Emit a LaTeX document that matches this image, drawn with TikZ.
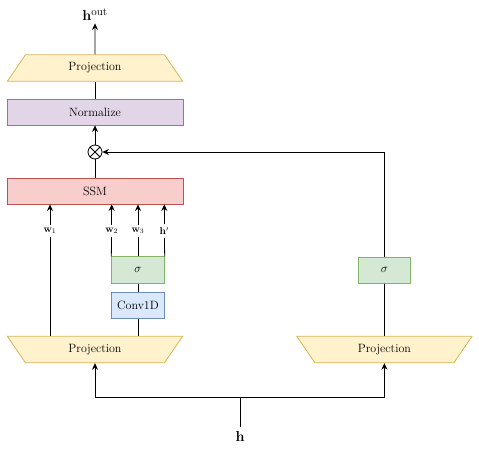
\documentclass[tikz,border=0pt]{standalone}
\usetikzlibrary{shapes.geometric,arrows.meta}
\definecolor{projfill}{HTML}{FFF2CC}
\definecolor{projline}{HTML}{D6B656}
\definecolor{normfill}{HTML}{E1D5E7}
\definecolor{normline}{HTML}{9673A6}
\definecolor{ssmfill}{HTML}{F8CECC}
\definecolor{ssmline}{HTML}{B85450}
\definecolor{sigfill}{HTML}{D5E8D4}
\definecolor{sigline}{HTML}{82B366}
\definecolor{convfill}{HTML}{DAE8FC}
\definecolor{convline}{HTML}{6C8EBF}
\begin{document}
\begin{tikzpicture}[x=1pt,y=-1pt,>={Stealth[length=6.5pt,width=6pt]},
	wide/.style={rectangle,minimum width=176pt,minimum height=26pt,inner sep=0pt,font=\fontsize{12}{14}\selectfont},
	narrow/.style={rectangle,minimum width=52.6pt,minimum height=26.5pt,inner sep=0pt,font=\fontsize{12}{14}\selectfont},
	proj/.style={trapezium,draw=projline,fill=projfill,trapezium stretches=true,minimum width=176pt,minimum height=26.5pt,inner sep=0pt,font=\fontsize{12}{14}\selectfont},
	weight/.style={inner sep=3pt,font=\fontsize{10}{12}\selectfont}]
	\useasboundingbox (0,0) rectangle (479,448);

	\begin{scope}[every node/.style={line width=0.8pt}]
		\node (Hout) [inner sep=2pt,font=\fontsize{15}{18}\selectfont] at (95,15) {$\mathbf{h}^{\mathrm{out}}$};
		\node (Ptop) [proj,trapezium left angle=57,trapezium right angle=57] at (95,68) {Projection};
		\node (Norm) [wide,draw=normline,fill=normfill] at (95,112) {Normalize};
		\node (Mul) [circle,draw=black,minimum size=14pt,inner sep=0pt,
			path picture={\draw[line width=0.8pt] (path picture bounding box.north west) -- (path picture bounding box.south east)
				(path picture bounding box.north east) -- (path picture bounding box.south west);}] at (95,152) {};
		\node (SSM) [wide,draw=ssmline,fill=ssmfill] at (95,191) {SSM};
		\node (S1) [narrow,draw=sigline,fill=sigfill,font=\fontsize{13}{15}\selectfont] at (138,270) {$\sigma$};
		\node (Conv) [narrow,draw=convline,fill=convfill] at (138,305.5) {Conv1D};
		\node (PL) [proj,trapezium left angle=123,trapezium right angle=123] at (95,349.5) {Projection};
		\node (S2) [narrow,draw=sigline,fill=sigfill,font=\fontsize{13}{15}\selectfont] at (384.4,270.3) {$\sigma$};
		\node (PR) [proj,trapezium left angle=123,trapezium right angle=123] at (384.4,349.5) {Projection};
		\node (H) [inner sep=4pt,font=\fontsize{15}{18}\selectfont] at (240,436) {$\mathbf{h}$};
	\end{scope}

	\begin{scope}[every node/.style={weight}]
		\node (W1) at (50,231) {$\mathbf{w}_1$};
		\node (W2) at (111.7,231) {$\mathbf{w}_2$};
		\node (W3) at (138,231) {$\mathbf{w}_3$};
		\node (Hp) at (164.3,231) {$\mathbf{h}'$};
	\end{scope}

	\coordinate (J) at (240,397.7);

	\begin{scope}[every edge/.style={draw=black, line width=0.8pt}]
		\path [->] (Ptop) edge (Hout);
		\path (Norm) edge (Ptop);
		\path [->] (Mul) edge (Norm);
		\path (SSM) edge (Mul);
		\path [->] (W1) edge (W1 |- SSM.south);
		\path [->] (W2) edge (W2 |- SSM.south);
		\path [->] (W3) edge (W3 |- SSM.south);
		\path [->] (Hp) edge (Hp |- SSM.south);
		\path (W1 |- PL.north) edge (W1);
		\path (S1.north west) edge (W2);
		\path (S1) edge (W3);
		\path (S1.north east) edge (Hp);
		\path (Conv) edge (S1);
		\path (Conv.south |- PL.north) edge (Conv);
		\path (PR) edge (S2);
	\end{scope}

	\draw [->, line width=0.8pt] (S2) |- (Mul);
	\draw [line width=0.8pt] (H) -- (J);
	\draw [->, line width=0.8pt] (J) -| (PL);
	\draw [->, line width=0.8pt] (J) -| (PR);
\end{tikzpicture}
\end{document}
